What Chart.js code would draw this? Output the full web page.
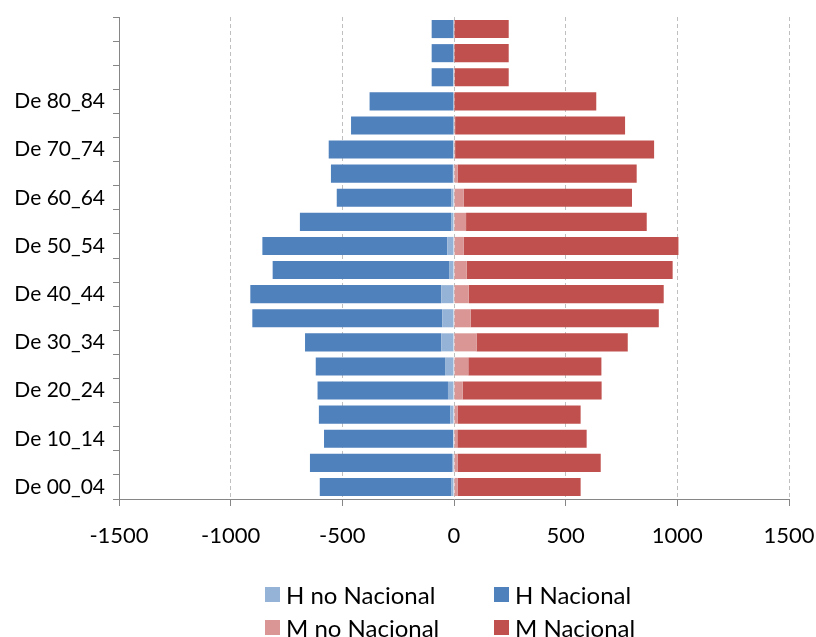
<!DOCTYPE html>
<html>
<head>
<meta charset="utf-8">
<script src="https://cdn.jsdelivr.net/npm/chart.js@4.4.1/dist/chart.umd.min.js"></script>
<style>
  body { margin: 0; background: #fff; }
  #wrap { position: relative; width: 816px; height: 637px; }
  #legend {
    position: absolute; left: 265px; top: 578px;
    display: grid; grid-template-columns: 229px auto;
    font-family: Lato, sans-serif; font-size: 24px; color: #000;
  }
  #legend .item { display: flex; align-items: center; height: 33px; white-space: nowrap; }
  #legend .box { width: 15px; height: 15px; margin-right: 6px; }
</style>
</head>
<body>
<div id="wrap">
  <canvas id="chart"></canvas>
  <div id="legend"></div>
</div>
<script>
// grupos de edad, de abajo arriba (los tres últimos sin rótulo)
const ageGroups = ['De 00_04', 'De 05_09', 'De 10_14', 'De 15_19', 'De 20_24', 'De 25_29',
  'De 30_34', 'De 35_39', 'De 40_44', 'De 45_49', 'De 50_54', 'De 55_59', 'De 60_64',
  'De 65_69', 'De 70_74', 'De 75_79', 'De 80_84', '', '', ''];

// hombres en negativo para la pirámide
const hNoNacional = [-13, -9, -4, -16, -27, -40, -57, -52, -57, -22, -30, -13, -13, -5, -3, -2, 0, -3, 0, 0];
const hNacional = [-588, -636, -578, -589, -584, -579, -610, -851, -855, -790, -828, -677, -512, -546, -558, -459, -378, -97, -100, -100];
const mNoNacional = [16, 16, 15, 16, 39, 64, 101, 75, 66, 57, 43, 54, 43, 16, 5, 5, 2, 3, 0, 0];
const mNacional = [551, 641, 579, 551, 622, 596, 677, 842, 873, 922, 962, 809, 754, 802, 891, 761, 635, 242, 245, 245];

const seriesNames = ['H no Nacional', 'H Nacional', 'M no Nacional', 'M Nacional'];
const seriesColors = ['#95b3d7', '#4f81bd', '#d99694', '#c0504d'];
const seriesData = [hNoNacional, hNacional, mNoNacional, mNacional];

const xTicks = [-1500, -1000, -500, 0, 500, 1000, 1500];

Chart.defaults.font.family = 'Lato, sans-serif';
Chart.defaults.color = '#000';

const axisColor = '#868686';

new Chart(document.getElementById('chart'), {
  type: 'bar',
  data: {
    labels: ageGroups,
    datasets: seriesData.map((d, i) => ({
      label: seriesNames[i],
      data: d,
      backgroundColor: seriesColors[i],
      borderWidth: 0,
      barPercentage: 0.75,
      categoryPercentage: 1.0
    }))
  },
  options: {
    indexAxis: 'y',
    responsive: true,
    maintainAspectRatio: false,
    animation: false,
    layout: { padding: { top: 17, right: 27, bottom: 78, left: 0 } },
    plugins: {
      legend: { display: false },
      tooltip: { enabled: true }
    },
    scales: {
      x: {
        stacked: true,
        min: xTicks[0],
        max: xTicks[xTicks.length - 1],
        afterBuildTicks: (scale) => { scale.ticks = xTicks.map(v => ({ value: v })); },
        afterFit: (scale) => {
          scale.height = 60;
          scale.paddingLeft = 0;
          scale.paddingRight = 0;
        },
        grid: {
          color: '#bfbfbf',
          tickColor: axisColor,
          tickLength: 7,
          tickBorderDash: []
        },
        border: { color: axisColor, dash: [4, 3] },
        ticks: {
          font: { size: 22 },
          padding: 17,
          callback: (v) => String(v)
        }
      },
      y: {
        stacked: true,
        reverse: true,
        afterFit: (scale) => {
          scale.width = 119;
          scale.paddingTop = 0;
          scale.paddingBottom = 0;
        },
        grid: {
          drawOnChartArea: false,
          offset: true,
          tickLength: 6,
          color: axisColor
        },
        border: { color: axisColor },
        ticks: {
          autoSkip: false,
          font: { size: 21 },
          padding: 8,
          callback: (v, i) => (i % 2 === 0 ? ageGroups[i] : '')
        }
      }
    }
  }
});

// leyenda en dos columnas, como en el original
const legend = document.getElementById('legend');
seriesNames.forEach((name, i) => {
  const item = document.createElement('div');
  item.className = 'item';
  item.innerHTML = `<span class="box" style="background:${seriesColors[i]}"></span>${name}`;
  legend.appendChild(item);
});
</script>
</body>
</html>
